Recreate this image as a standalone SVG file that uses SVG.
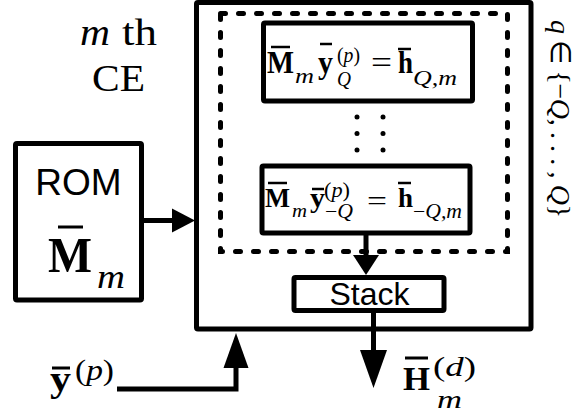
<svg xmlns="http://www.w3.org/2000/svg" width="576" height="417" viewBox="0 0 576 417">
<style>
.box{fill:#fff;stroke:#000;stroke-width:5;stroke-linejoin:round}
.dash{fill:none;stroke:#000;stroke-width:5;stroke-dasharray:5 13;stroke-linecap:round}
.serif{font-family:"Liberation Serif","Times New Roman",serif;fill:#000}
.sans{font-family:"Liberation Sans",Arial,sans-serif;fill:#000}
.bf{font-weight:bold}
.it{font-style:italic}
.bar{stroke:#000;stroke-width:2.5}
.wire{stroke:#000;stroke-width:5;fill:none}
.head{fill:#000}
.dot{fill:#000}
</style>
<rect width="576" height="417" fill="#fff"/>

<g id="ce">
  <rect class="box" x="196.5" y="2.5" width="334.5" height="326.5" rx="1.5"/>
  <text class="serif it" x="80" y="45" font-size="38" textLength="30" lengthAdjust="spacingAndGlyphs">m</text>
  <text class="serif" x="122" y="45" font-size="38" textLength="35" lengthAdjust="spacingAndGlyphs">th</text>
  <text class="serif" x="92" y="91" font-size="38" textLength="53" lengthAdjust="spacingAndGlyphs">CE</text>
</g>

<g id="group-q">
  <rect class="dash" x="220.5" y="13.5" width="287" height="238"/>
  <text class="serif" transform="translate(551,20) rotate(90)" font-size="28" textLength="198" lengthAdjust="spacing"><tspan class="it">q</tspan> ∈ {−<tspan class="it">Q</tspan>, . . . , <tspan class="it">Q</tspan>}</text>
</g>

<g id="eq-top">
  <rect class="box" x="263.5" y="23" width="209" height="78" rx="1.5"/>
  <text class="serif bf" x="267" y="73" font-size="32" textLength="27" lengthAdjust="spacingAndGlyphs">M</text>
  <line class="bar" x1="271" y1="47" x2="290" y2="47"/>
  <text class="serif it" x="295" y="83" font-size="21" textLength="19" lengthAdjust="spacingAndGlyphs">m</text>
  <text class="serif bf" x="318" y="73" font-size="32" textLength="15" lengthAdjust="spacingAndGlyphs">y</text>
  <line class="bar" x1="320" y1="44" x2="332" y2="44"/>
  <text class="serif" x="337" y="62" font-size="22" textLength="23" lengthAdjust="spacingAndGlyphs">(<tspan class="it">p</tspan>)</text>
  <text class="serif it" x="337" y="86" font-size="21" textLength="14" lengthAdjust="spacingAndGlyphs">Q</text>
  <text class="serif" x="371" y="73" font-size="32" textLength="21" lengthAdjust="spacingAndGlyphs">=</text>
  <text class="serif bf" x="398" y="73" font-size="32" textLength="15" lengthAdjust="spacingAndGlyphs">h</text>
  <line class="bar" x1="398" y1="49" x2="411" y2="49"/>
  <text class="serif it" x="413" y="85" font-size="22" textLength="44" lengthAdjust="spacingAndGlyphs">Q,m</text>
</g>

<g id="dots">
  <circle class="dot" cx="357" cy="117" r="2.5"/>
  <circle class="dot" cx="383" cy="117" r="2.5"/>
  <circle class="dot" cx="357" cy="133.5" r="2.5"/>
  <circle class="dot" cx="383" cy="133.5" r="2.5"/>
  <circle class="dot" cx="357" cy="150" r="2.5"/>
  <circle class="dot" cx="383" cy="150" r="2.5"/>
</g>

<g id="eq-bottom">
  <rect class="box" x="262" y="166" width="208" height="67" rx="1.5"/>
  <text class="serif bf" x="265" y="207" font-size="27" textLength="25" lengthAdjust="spacingAndGlyphs">M</text>
  <line class="bar" x1="268" y1="183" x2="287" y2="183"/>
  <text class="serif it" x="292" y="217" font-size="18" textLength="15" lengthAdjust="spacingAndGlyphs">m</text>
  <text class="serif bf" x="310" y="207" font-size="28" textLength="15" lengthAdjust="spacingAndGlyphs">y</text>
  <line class="bar" x1="312" y1="189" x2="324" y2="189"/>
  <text class="serif" x="324" y="197" font-size="20" textLength="26" lengthAdjust="spacingAndGlyphs">(<tspan class="it">p</tspan>)</text>
  <text class="serif" x="325" y="218" font-size="20" textLength="28" lengthAdjust="spacingAndGlyphs">−<tspan class="it">Q</tspan></text>
  <text class="serif" x="367" y="210" font-size="28" textLength="20" lengthAdjust="spacingAndGlyphs">=</text>
  <text class="serif bf" x="398" y="207" font-size="28" textLength="15" lengthAdjust="spacingAndGlyphs">h</text>
  <line class="bar" x1="398" y1="183" x2="411" y2="183"/>
  <text class="serif" x="413" y="218" font-size="20" textLength="49" lengthAdjust="spacingAndGlyphs">−<tspan class="it">Q,m</tspan></text>
</g>

<g id="stack">
  <rect class="box" x="294" y="277.5" width="150" height="33" rx="1.5"/>
  <text class="sans" x="369.5" y="305" font-size="32" text-anchor="middle">Stack</text>
</g>

<g id="rom">
  <rect class="box" x="15.5" y="143.5" width="126" height="156.5" rx="1.5"/>
  <text class="sans" x="78.5" y="195" font-size="37" text-anchor="middle">ROM</text>
  <text class="serif bf" x="48" y="272" font-size="50" textLength="44" lengthAdjust="spacingAndGlyphs">M</text>
  <line class="bar" x1="58" y1="227" x2="83" y2="227" style="stroke-width:3"/>
  <text class="serif it" x="97" y="288" font-size="34" textLength="28" lengthAdjust="spacingAndGlyphs">m</text>
</g>

<g id="input-label">
  <text class="serif bf" x="50" y="391" font-size="36" textLength="21" lengthAdjust="spacingAndGlyphs">y</text>
  <line class="bar" x1="52" y1="368" x2="70" y2="368" style="stroke-width:3"/>
  <text class="serif" x="75" y="380" font-size="30" textLength="39" lengthAdjust="spacingAndGlyphs">(<tspan class="it">p</tspan>)</text>
</g>

<g id="output-label">
  <text class="serif bf" x="403" y="390" font-size="34" textLength="27" lengthAdjust="spacingAndGlyphs">H</text>
  <line class="bar" x1="405" y1="358" x2="428" y2="358" style="stroke-width:3"/>
  <text class="serif" x="433" y="376" font-size="28" textLength="43" lengthAdjust="spacingAndGlyphs">(<tspan class="it">d</tspan>)</text>
  <text class="serif it" x="437" y="408" font-size="26" textLength="25" lengthAdjust="spacingAndGlyphs">m</text>
</g>

<g id="connectors">
  <line class="wire" x1="141" y1="220.5" x2="174" y2="220.5"/>
  <polygon class="head" points="172,208.5 195,220.5 172,232.5"/>
  <polyline class="wire" points="117,389 236,389 236,366"/>
  <polygon class="head" points="223.5,368 248.5,368 236,333"/>
  <line class="wire" x1="366" y1="235" x2="366" y2="257"/>
  <polygon class="head" points="353,255 379,255 366,275"/>
  <line class="wire" x1="373.5" y1="313" x2="373.5" y2="352"/>
  <polygon class="head" points="360,350 387,350 373.5,388"/>
</g>
</svg>
